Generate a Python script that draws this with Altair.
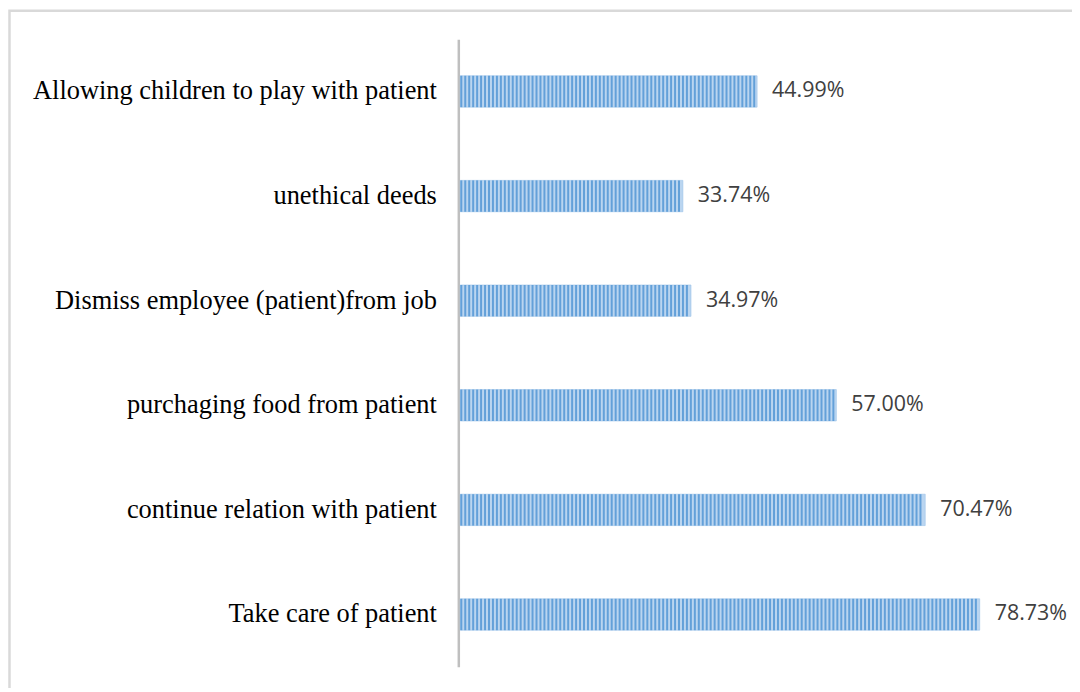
import altair as alt
import pandas as pd
import numpy as np

categories = [
    "Allowing children to play with patient",
    "unethical deeds",
    "Dismiss employee (patient)from job",
    "purchaging food from patient",
    "continue relation with patient",
    "Take care of patient",
]
values = [44.99, 33.74, 34.97, 57.00, 70.47, 78.73]
labels = ["44.99%", "33.74%", "34.97%", "57.00%", "70.47%", "78.73%"]

df = pd.DataFrame({"cat": categories, "val": values, "lab": labels})

# decorative vertical stripe texture inside each bar (derived from the bar values)
STEP, DARK = 0.6, 0.3
rows = []
for c, v in zip(categories, values):
    for s in np.arange(0, v - DARK, STEP):
        rows.append({"cat": c, "s0": float(s), "s1": float(s + DARK)})
stripes = pd.DataFrame(rows)

W, H = 596, 630

y_enc = alt.Y(
    "cat:N",
    sort=categories,
    scale=alt.Scale(paddingInner=0.7, paddingOuter=0.35),
    axis=alt.Axis(
        title=None,
        ticks=False,
        labelFont="Liberation Serif",
        labelFontSize=26.5,
        labelColor="#000000",
        labelPadding=22,
        labelLimit=0,
        domainColor="#bfbfbf",
        domainWidth=2.5,
        offset=2,
    ),
)
x_scale = alt.Scale(domain=[0, 90], nice=False)
x_enc = alt.X("val:Q", scale=x_scale, axis=None)

frame = alt.Chart(df).mark_rect(
    fill=None, stroke="#d9d9d9", strokeWidth=2.5, clip=False
).encode(
    x=alt.value(-452.5), x2=alt.value(800), y=alt.value(-28.5), y2=alt.value(800)
).transform_filter(alt.datum.cat == categories[0])

bars = alt.Chart(df).mark_bar(
    color="#bad5f0", stroke="#9cc2ea", strokeWidth=0.6
).encode(y=y_enc, x=x_enc)

stripe_layer = alt.Chart(stripes).mark_bar(color="#5e9dd7", opacity=0.95).encode(
    y=alt.Y("cat:N", sort=categories),
    x=alt.X("s0:Q", scale=x_scale, axis=None),
    x2="s1:Q",
)

text = alt.Chart(df).mark_text(
    align="left", baseline="middle", dx=15, font="Open Sans", fontSize=21.5, color="#404040"
).encode(y=alt.Y("cat:N", sort=categories), x="val:Q", text="lab:N")

chart = alt.layer(frame, bars, stripe_layer, text).properties(
    width=W,
    height=H,
    background="white",
    autosize=alt.AutoSizeParams(type="none"),
    padding={"left": 454, "top": 30, "right": 18, "bottom": 20},
).configure_view(strokeWidth=0, stroke=None)

chart.save("out.html", embed_options={"renderer": "svg", "actions": False})
